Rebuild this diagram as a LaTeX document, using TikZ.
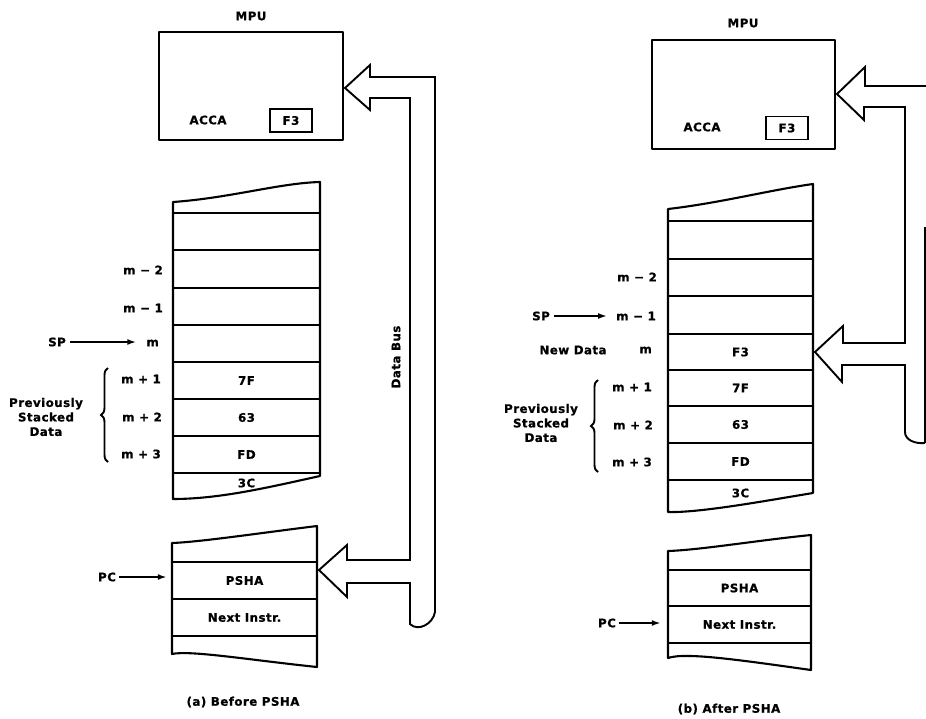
\documentclass[tikz,border=0pt]{standalone}
\usepackage{fontspec}
\setmainfont{DejaVu Sans}[LetterSpace=4, BoldFeatures={FakeBold=0.8}]
\usetikzlibrary{decorations.pathreplacing,arrows.meta}
\begin{document}
\begin{tikzpicture}[x=1pt,y=-1pt,
  lbl/.style={font=\bfseries\fontsize{11.8}{14}\selectfont, inner sep=0pt},
  plbl/.style={font=\bfseries\fontsize{11.8}{14.5}\selectfont, inner sep=0pt, align=center},
  val/.style={lbl, minimum width=145pt, minimum height=30pt},
  regbox/.style={lbl, draw, line width=1.8pt, minimum width=42pt, minimum height=23pt},
  edge/.style={line width=2.1pt, line join=round},
  rowline/.style={line width=2pt},
  bus/.style={line width=1.9pt, line join=miter},
  ptr/.style={line width=2pt, -{Latex[length=9pt,width=6pt]}},
  brc/.style={line width=1.9pt, decorate, decoration={brace, amplitude=7pt, aspect=0.5}}]
\useasboundingbox (0,0) rectangle (926,718);

% ================= (a) Before PSHA =================
\node[lbl] (mpuA) at (251,16) {MPU};
\draw[edge] (159,32) rectangle (343,140);
\node[lbl] (accaA) at (208,120) {ACCA};
\node[regbox] (f3A) at (291,120.5) {F3};

% stack
\draw[edge] (173,202) .. controls (230,198) and (280,183) .. (320,182) -- (320,476)
  .. controls (270,487) and (220,499) .. (173,499) -- cycle;
\foreach \y in {213,250,288,325,362,399,436,473} \draw[rowline] (173,\y) -- (320,\y);

\node[lbl, anchor=east] (m2A) at (163,270) {m − 2};
\node[lbl, anchor=east] (m1A) at (163,308) {m − 1};
\node[lbl, anchor=east] (mA)  at (159,343) {m};
\node[lbl, anchor=east] (p1A) at (161,379) {m + 1};
\node[lbl, anchor=east] (p2A) at (162,417) {m + 2};
\node[lbl, anchor=east] (p3A) at (161,454) {m + 3};

\node[lbl] (spA) at (57,342) {SP};
\draw[ptr, shorten <=4pt, shorten >=10pt] (spA.east) -- (spA.east -| mA.west);

\node[val] (v1A) at (246.5,380.5) {7F};
\node[val] (v2A) at (246.5,417.5) {63};
\node[val] (v3A) at (246.5,454.5) {FD};
\node[lbl] (v4A) at (246.5,483) {3C};

\draw[brc] (108,462) -- (108,368);
\node[plbl] (prevA) at (46,417) {Previously\\Stacked\\Data};

% program memory
\draw[edge] (172,543) .. controls (200,542) and (260,533) .. (317,526) -- (317,667)
  .. controls (250,660) and (190,650) .. (172,654) -- cycle;
\foreach \y in {562,599,636} \draw[rowline] (172,\y) -- (317,\y);
\node[val] (pshaA) at (244.5,580.5) {PSHA};
\node[val] (nextA) at (244.5,617.5) {Next Instr.};
\node[lbl] (pcA) at (107,577) {PC};
\draw[ptr, shorten <=3pt, shorten >=5pt] (pcA.east) -- (pcA.east -| pshaA.west);

% data bus
\draw[bus] (345,88) -- (370,65) -- (370,77) -- (435,77) -- (435,612)
  .. controls (433,624) and (418,632) .. (410,624) -- (410,583) -- (347,583) -- (347,597)
  -- (319,570) -- (347,545) -- (347,560) -- (410,560) -- (410,98) -- (370,98) -- (370,110) -- cycle;
\node[lbl, rotate=90] (busA) at (396,357) {Data Bus};

\node[lbl] (capA) at (243,702) {(a) Before PSHA};

% ================= (b) After PSHA =================
\node[lbl] (mpuB) at (743,23) {MPU};
\draw[edge] (652,40) rectangle (835,149);
\node[lbl] (accaB) at (702,127) {ACCA};
\node[regbox] (f3B) at (787,128) {F3};

% stack
\draw[edge] (668,209) .. controls (720,203) and (770,190) .. (813,184) -- (813,493)
  .. controls (770,500) and (700,513) .. (668,512) -- cycle;
\foreach \y in {221,259,296,334,370,406,443,480} \draw[rowline] (668,\y) -- (813,\y);

\node[lbl, anchor=east] (m2B) at (657,277) {m − 2};
\node[lbl, anchor=east] (m1B) at (656,316) {m − 1};
\node[lbl, anchor=east] (mB)  at (652,350) {m};
\node[lbl, anchor=east] (p1B) at (652,387) {m + 1};
\node[lbl, anchor=east] (p2B) at (653,425) {m + 2};
\node[lbl, anchor=east] (p3B) at (652,462) {m + 3};
\node[lbl] (newB) at (573,350) {New Data};

\node[lbl] (spB) at (541,316) {SP};
\draw[ptr, shorten <=4pt, shorten >=9pt] (spB.east) -- (spB.east -| m1B.west);

\node[val] (v0B) at (740.5,352) {F3};
\node[val] (v1B) at (740.5,388) {7F};
\node[val] (v2B) at (740.5,424.5) {63};
\node[val] (v3B) at (740.5,461.5) {FD};
\node[lbl] (v4B) at (740.5,493) {3C};

\draw[brc] (598,472) -- (598,380);
\node[plbl] (prevB) at (541,423) {Previously\\Stacked\\Data};

% program memory
\draw[edge] (668,551) .. controls (700,550) and (760,540) .. (811,535) -- (811,670)
  .. controls (740,660) and (685,652) .. (668,658) -- cycle;
\foreach \y in {570,606,643} \draw[rowline] (668,\y) -- (811,\y);
\node[val] (pshaB) at (739.5,588) {PSHA};
\node[val] (nextB) at (739.5,624.5) {Next Instr.};
\node[lbl] (pcB) at (607,623) {PC};
\draw[ptr, shorten <=3pt, shorten >=6pt] (pcB.east) -- (pcB.east -| nextB.west);

% data bus
\draw[bus] (940,86) -- (865,86) -- (865,67) -- (837,94) -- (864,120) -- (864,107) -- (905,107)
  -- (905,343) -- (843,343) -- (843,326) -- (815,352) -- (842,382) -- (842,365) -- (905,365)
  -- (905,432) .. controls (905,440) and (915,444) .. (925,443);
\draw[bus] (925,227) -- (925,443);

\node[lbl] (capB) at (729,709) {(b) After PSHA};
\end{tikzpicture}
\end{document}
